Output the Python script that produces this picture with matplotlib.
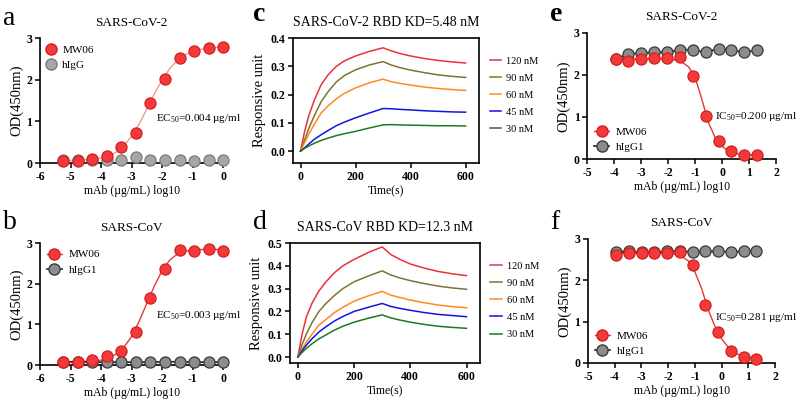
import matplotlib
matplotlib.use("Agg")
import matplotlib.pyplot as plt

plt.rcParams['font.family'] = ['Liberation Serif', 'DejaVu Serif']
plt.rcParams['mathtext.fontset'] = 'custom'
plt.rcParams['mathtext.rm'] = 'Liberation Serif'
plt.rcParams['axes.unicode_minus'] = False

# ---- ELISA binding (a, b): log10 mAb, 3-fold dilution from 1 ug/mL
x_bind = [-5.25, -4.77, -4.29, -3.82, -3.34, -2.86, -2.39, -1.91, -1.43, -0.95, -0.48, 0.0]
a_mw06 = [0.06, 0.06, 0.10, 0.16, 0.39, 0.71, 1.45, 2.03, 2.53, 2.70, 2.76, 2.80]
a_higg = [0.07, 0.07, 0.07, 0.08, 0.08, 0.14, 0.08, 0.08, 0.08, 0.06, 0.08, 0.08]
b_mw06 = [0.08, 0.08, 0.12, 0.22, 0.35, 0.80, 1.65, 2.35, 2.84, 2.81, 2.85, 2.81]
b_higg1 = [0.07, 0.08, 0.07, 0.07, 0.07, 0.07, 0.07, 0.08, 0.08, 0.07, 0.07, 0.07]

# fitted curves
fit_x_bind = [-5.25, -5.0, -4.75, -4.5, -4.25, -4.0, -3.75, -3.5, -3.25, -3.0, -2.75,
              -2.5, -2.25, -2.0, -1.75, -1.5, -1.25, -1.0, -0.75, -0.5, -0.25, 0.0]
fit_a = [0.06, 0.06, 0.07, 0.08, 0.09, 0.12, 0.17, 0.26, 0.42, 0.64, 0.94,
         1.30, 1.67, 2.00, 2.27, 2.47, 2.60, 2.68, 2.73, 2.76, 2.78, 2.79]
fit_b = [0.08, 0.08, 0.08, 0.09, 0.10, 0.12, 0.17, 0.27, 0.44, 0.70, 1.08,
         1.52, 1.95, 2.32, 2.58, 2.73, 2.80, 2.83, 2.84, 2.84, 2.84, 2.84]

# ---- neutralisation (e, f): 3-fold dilution from 20 ug/mL
x_neut = [-3.95, -3.47, -2.99, -2.52, -2.04, -1.56, -1.08, -0.61, -0.13, 0.35, 0.82, 1.30]
e_mw06 = [2.38, 2.33, 2.38, 2.40, 2.40, 2.42, 1.98, 1.03, 0.42, 0.18, 0.10, 0.10]
e_higg1 = [2.38, 2.50, 2.52, 2.54, 2.54, 2.60, 2.60, 2.54, 2.63, 2.59, 2.54, 2.59]
f_mw06 = [2.62, 2.65, 2.67, 2.67, 2.67, 2.69, 2.36, 1.41, 0.74, 0.30, 0.15, 0.10]
f_higg1 = [2.69, 2.70, 2.68, 2.68, 2.70, 2.70, 2.69, 2.70, 2.70, 2.69, 2.70, 2.70]

fit_x_neut = [-3.95, -3.5, -3.0, -2.5, -2.0, -1.75, -1.5, -1.25, -1.0, -0.75, -0.5,
              -0.25, 0.0, 0.25, 0.5, 0.75, 1.0, 1.3]
fit_e = [2.38, 2.38, 2.38, 2.38, 2.37, 2.36, 2.31, 2.20, 1.95, 1.42, 0.86,
         0.50, 0.30, 0.19, 0.13, 0.11, 0.10, 0.10]
fit_f = [2.66, 2.66, 2.66, 2.66, 2.65, 2.63, 2.58, 2.47, 2.20, 1.80, 1.28,
         0.88, 0.58, 0.38, 0.24, 0.17, 0.13, 0.11]

# ---- BLI kinetics (c, d)
t = [0, 15, 30, 50, 75, 100, 130, 160, 200, 250, 300, 330, 360, 400, 450, 500, 550, 600]
conc_labels = ['120 nM', '90 nM', '60 nM', '45 nM', '30 nM']
conc_colors = ['#e8323c', '#7d7430', '#ff8a1c', '#1414e0', '#1d7a22']
c_curves = [
    [0, 0.07, 0.125, 0.18, 0.235, 0.27, 0.30, 0.32, 0.337, 0.353, 0.366, 0.355, 0.346, 0.337, 0.328, 0.321, 0.316, 0.312],
    [0, 0.04, 0.08, 0.125, 0.175, 0.21, 0.245, 0.268, 0.288, 0.305, 0.317, 0.305, 0.296, 0.287, 0.278, 0.27, 0.265, 0.261],
    [0, 0.03, 0.06, 0.095, 0.135, 0.16, 0.185, 0.205, 0.224, 0.242, 0.255, 0.246, 0.24, 0.234, 0.227, 0.222, 0.218, 0.215],
    [0, 0.012, 0.025, 0.042, 0.058, 0.073, 0.09, 0.103, 0.118, 0.135, 0.151, 0.15, 0.148, 0.146, 0.143, 0.141, 0.139, 0.138],
    [0, 0.01, 0.018, 0.028, 0.038, 0.046, 0.055, 0.062, 0.07, 0.082, 0.093, 0.094, 0.093, 0.092, 0.091, 0.09, 0.09, 0.089],
]
d_curves = [
    [0, 0.10, 0.175, 0.235, 0.29, 0.33, 0.37, 0.40, 0.428, 0.458, 0.483, 0.45, 0.43, 0.408, 0.39, 0.375, 0.365, 0.357],
    [0, 0.055, 0.10, 0.15, 0.20, 0.235, 0.27, 0.30, 0.33, 0.355, 0.378, 0.36, 0.348, 0.335, 0.322, 0.311, 0.303, 0.297],
    [0, 0.035, 0.065, 0.10, 0.14, 0.165, 0.195, 0.218, 0.245, 0.268, 0.288, 0.272, 0.262, 0.25, 0.238, 0.228, 0.221, 0.216],
    [0, 0.028, 0.052, 0.08, 0.11, 0.133, 0.158, 0.178, 0.20, 0.218, 0.235, 0.222, 0.214, 0.205, 0.195, 0.187, 0.182, 0.177],
    [0, 0.02, 0.038, 0.058, 0.08, 0.097, 0.118, 0.135, 0.153, 0.17, 0.185, 0.172, 0.163, 0.153, 0.143, 0.135, 0.13, 0.126],
]

RED = '#f23a3a'
RED_EDGE = '#d81e1e'

fig = plt.figure(figsize=(8, 4.04), dpi=100)


def style_ticks(ax):
    ax.tick_params(direction='out', length=3.5, width=1.1, labelsize=8.5, pad=2)
    for lab in ax.get_xticklabels() + ax.get_yticklabels():
        lab.set_fontweight('bold')


def dose_panel(rect, title, xs, mw, ctrl, fx, fy, ctrl_name, xlim, xticks,
               note, note_xy, legend_loc, ctrl_line, ctrl_face, ctrl_edge, fit_color):
    ax = fig.add_axes(rect)
    ax.plot(fx, fy, color=fit_color, lw=1.0, zorder=2)
    if ctrl_line:
        ax.plot(xs, ctrl, color='#222222', lw=1.2, zorder=2)
    ax.plot(xs, ctrl, 'o', ms=8, mfc=ctrl_face, mec=ctrl_edge, mew=0.9,
            zorder=3, clip_on=False)
    ax.plot(xs, mw, 'o', ms=8, mfc=RED, mec=RED_EDGE, mew=0.9,
            zorder=4, clip_on=False)
    # legend proxies
    ls = '-' if ctrl_line else 'none'
    h1, = ax.plot([], [], marker='o', ls=ls, color=fit_color if ctrl_line else RED,
                  ms=8, mfc=RED, mec=RED_EDGE, lw=1.0)
    h2, = ax.plot([], [], marker='o', ls=ls, color='#222222',
                  ms=8, mfc=ctrl_face, mec=ctrl_edge, lw=1.2)
    ax.legend([h1, h2], ['MW06', ctrl_name], loc=legend_loc, frameon=False,
              fontsize=8, handlelength=1.4 if ctrl_line else 0.8,
              handletextpad=0.6, borderaxespad=0.2, labelspacing=0.5)
    ax.set_xlim(*xlim)
    ax.set_ylim(0, 3)
    ax.set_xticks(xticks)
    ax.set_yticks([0, 1, 2, 3])
    ax.spines['top'].set_visible(False)
    ax.spines['right'].set_visible(False)
    for s in ('left', 'bottom'):
        ax.spines[s].set_linewidth(1.2)
    style_ticks(ax)
    ax.set_title(title, fontsize=9.5, pad=9)
    ax.set_ylabel('OD(450nm)', fontsize=10.5, labelpad=2)
    ax.set_xlabel('mAb (µg/mL) log10', fontsize=8.5, labelpad=2)
    ax.text(note_xy[0], note_xy[1], note, fontsize=8, transform=ax.transData)
    return ax


def kin_panel(rect, title, curves, ylim, yticks, leg_xy):
    ax = fig.add_axes(rect)
    for vals, col, lab in zip(curves, conc_colors, conc_labels):
        ax.plot(t, vals, color=col, lw=1.1, label=lab)
    ax.set_xlim(-28, 648)
    ax.set_ylim(*ylim)
    ax.set_xticks([0, 200, 400, 600])
    ax.set_yticks(yticks)
    ax.set_yticklabels(['%.1f' % v for v in yticks])
    for s in ax.spines.values():
        s.set_linewidth(1.2)
    style_ticks(ax)
    ax.set_title(title, fontsize=10, pad=9)
    ax.set_ylabel('Responsive unit', fontsize=10.5, labelpad=3)
    ax.set_xlabel('Time(s)', fontsize=8.5, labelpad=2)
    ax.legend(loc='upper left', bbox_to_anchor=leg_xy, frameon=False,
              fontsize=7.5, handlelength=1.1, handletextpad=0.5, labelspacing=0.75,
              borderpad=0, borderaxespad=0)
    return ax


dose_panel([0.05, 0.5965, 0.229, 0.309], 'SARS-CoV-2', x_bind, a_mw06, a_higg,
           fit_x_bind, fit_a, 'hIgG', (-6, 0), [-6, -5, -4, -3, -2, -1, 0],
           'EC$_{50}$=0.004 µg/ml', (-2.2, 1.0), 'upper left', False,
           '#a6a6a6', '#7a7a7a', '#f29a9a')
dose_panel([0.05, 0.0965, 0.229, 0.302], 'SARS-CoV', x_bind, b_mw06, b_higg1,
           fit_x_bind, fit_b, 'hIgG1', (-6, 0), [-6, -5, -4, -3, -2, -1, 0],
           'EC$_{50}$=0.003 µg/ml', (-2.2, 1.15), 'upper left', True,
           '#8c8c8c', '#3a3a3a', '#e03a3a')
kin_panel([0.366, 0.5965, 0.2325, 0.309], 'SARS-CoV-2 RBD KD=5.48 nM',
          c_curves, (-0.042, 0.4), [0.0, 0.1, 0.2, 0.3, 0.4], (1.059, 0.855))
kin_panel([0.3625, 0.1015, 0.2375, 0.297], 'SARS-CoV RBD KD=12.3 nM',
          d_curves, (-0.026, 0.5), [0.0, 0.1, 0.2, 0.3, 0.4, 0.5], (1.053, 0.846))
dose_panel([0.734, 0.6064, 0.236, 0.312], 'SARS-CoV-2', x_neut, e_mw06, e_higg1,
           fit_x_neut, fit_e, 'hIgG1', (-5, 2), [-5, -4, -3, -2, -1, 0, 1, 2],
           'IC$_{50}$=0.200 µg/ml', (-0.25, 0.95), 'lower left', True,
           '#8c8c8c', '#3a3a3a', '#e03a3a')
dose_panel([0.735, 0.1015, 0.234, 0.307], 'SARS-CoV', x_neut, f_mw06, f_higg1,
           fit_x_neut, fit_f, 'hIgG1', (-5, 2), [-5, -4, -3, -2, -1, 0, 1, 2],
           'IC$_{50}$=0.281 µg/ml', (-0.25, 1.05), 'lower left', True,
           '#8c8c8c', '#3a3a3a', '#e03a3a')

# panel letters
for lab, x, y, w in [('a', 0.004, 0.955, 'normal'), ('b', 0.004, 0.45, 'normal'),
                     ('c', 0.316, 0.965, 'bold'), ('d', 0.316, 0.45, 'normal'),
                     ('e', 0.688, 0.965, 'bold'), ('f', 0.688, 0.45, 'normal')]:
    fig.text(x, y, lab, fontsize=20, fontweight=w, va='center', ha='left')

fig.savefig('out.png', dpi=100)
